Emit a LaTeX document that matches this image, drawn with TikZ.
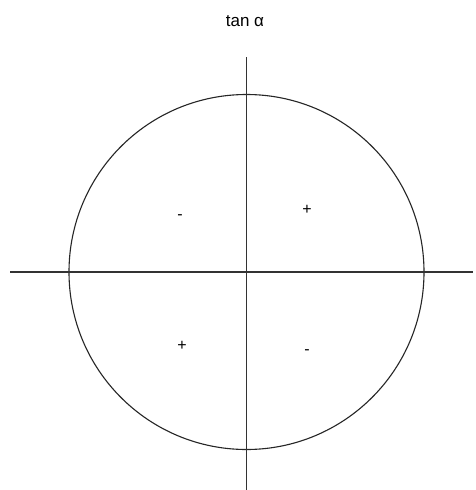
\documentclass[tikz,border=0pt]{standalone}
\usepackage{fontspec}
\setmainfont{Liberation Sans}
\begin{document}
\begin{tikzpicture}[x=1pt,y=-1pt,
  axis/.style={draw=black!80,line width=1.1pt},
  circ/.style={draw=black!85,line width=1.1pt},
  sign/.style={font=\fontsize{16}{16}\selectfont,inner sep=0pt}]
\useasboundingbox[fill=white] (0,0) rectangle (475,490);
\coordinate (O) at (246.5,272);
\coordinate (xl) at (10,272);
\coordinate (xr) at (473,272);
\coordinate (yt) at (246.5,57);
\coordinate (yb) at (246.5,490);
\draw[circ] (O) circle[radius=177.5];
\draw[axis] (xl) -- (xr);
\draw[axis] (yt) -- (yb);
\node[font=\fontsize{17}{17}\selectfont,inner sep=0pt] (title) at (245,21) {tan α};
\node[sign] (s2) at (180,217) {-};
\node[sign] (s1) at (307,210) {+};
\node[sign] (s3) at (182,346) {+};
\node[sign] (s4) at (307,352) {-};
\end{tikzpicture}
\end{document}
